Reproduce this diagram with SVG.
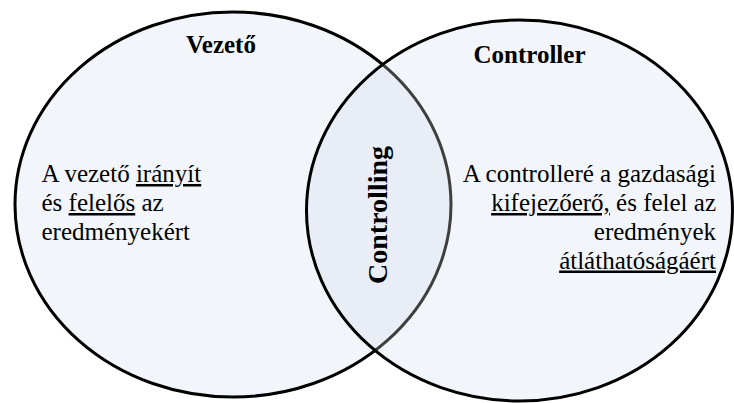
<svg xmlns="http://www.w3.org/2000/svg" width="734" height="403" viewBox="0 0 734 403">
  <defs>
    <clipPath id="inRight">
      <ellipse cx="519.5" cy="210.5" rx="213" ry="190.5"/>
    </clipPath>
    <style>
      .set { fill: #F2F5FA; }
      .edge { fill: none; stroke: #000; stroke-width: 3; }
      .inner-edge { fill: none; stroke: #3F3F3F; stroke-width: 3; }
      .lens { fill: #E9EDF6; }
      text { font-family: 'Liberation Serif', 'Times New Roman', serif; fill: #000; }
      .title { font-weight: bold; font-size: 25px; }
      .body { font-size: 25px; }
      .u { text-decoration: underline; }
    </style>
  </defs>
  <rect width="734" height="403" fill="#FFFFFF"/>

  <!-- Left set: Vezető -->
  <g id="vezeto">
    <ellipse class="set" cx="233" cy="204.5" rx="218" ry="192.5"/>
    <ellipse class="edge" cx="233" cy="204.5" rx="218" ry="192.5"/>
  </g>

  <!-- Right set: Controller (its fill hides the left outline inside it) -->
  <g id="controller">
    <ellipse class="set" cx="519.5" cy="210.5" rx="213" ry="190.5"/>
  </g>

  <!-- Intersection: Controlling -->
  <g id="controlling">
    <ellipse class="lens" cx="233" cy="204.5" rx="218" ry="192.5" clip-path="url(#inRight)"/>
    <ellipse class="inner-edge" cx="233" cy="204.5" rx="218" ry="192.5" clip-path="url(#inRight)"/>
    <text class="title" text-anchor="middle" transform="translate(387,215) rotate(-90)" style="font-size:28px">Controlling</text>
  </g>

  <!-- Right outline on top -->
  <g id="controller-outline">
    <ellipse class="edge" cx="519.5" cy="210.5" rx="213" ry="190.5"/>
  </g>

  <!-- Labels of the left set -->
  <g id="vezeto-labels">
    <text class="title" x="221" y="52.5" text-anchor="middle">Vezető</text>
    <text class="body" x="41.5" y="182">A vezető <tspan class="u">irányít</tspan></text>
    <text class="body" x="41.5" y="211">és <tspan class="u">felelős</tspan> az</text>
    <text class="body" x="41.5" y="240">eredményekért</text>
  </g>

  <!-- Labels of the right set -->
  <g id="controller-labels">
    <text class="title" x="529.5" y="63" text-anchor="middle">Controller</text>
    <text class="body" x="716" y="182" text-anchor="end">A controlleré a gazdasági</text>
    <text class="body" x="716" y="211" text-anchor="end"><tspan class="u">kifejezőerő,</tspan> és felel az</text>
    <text class="body" x="716" y="240" text-anchor="end">eredmények</text>
    <text class="body" x="716" y="268.5" text-anchor="end"><tspan class="u">átláthatóságáért</tspan></text>
  </g>
</svg>
